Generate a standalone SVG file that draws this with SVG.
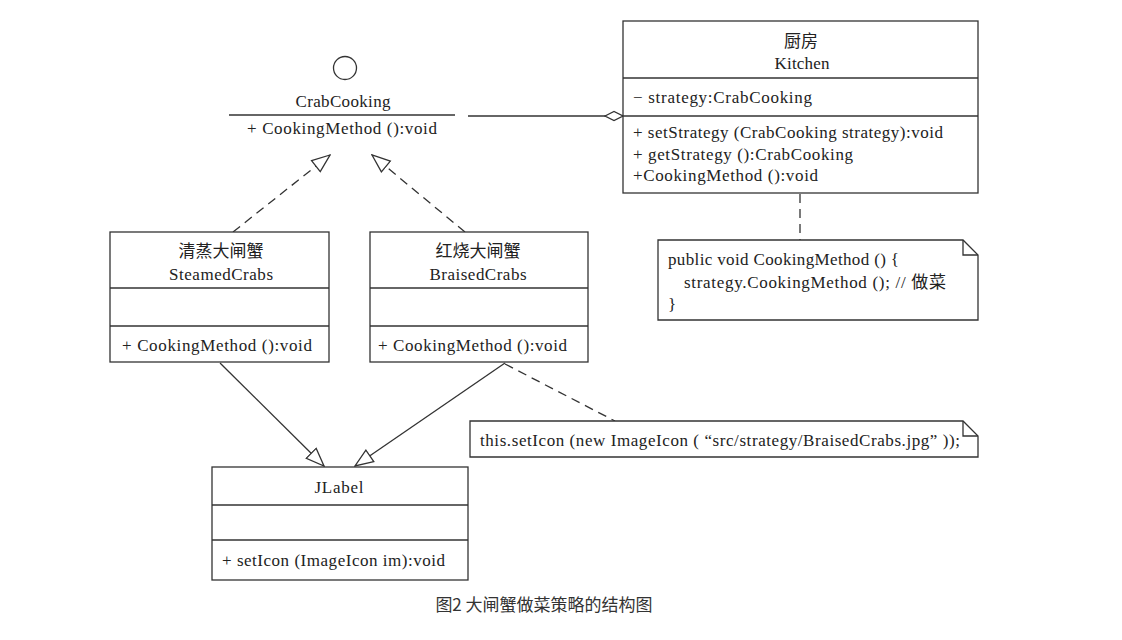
<svg xmlns="http://www.w3.org/2000/svg" width="1122" height="640" viewBox="0 0 1122 640">
<style>
.box{fill:#fff;stroke:#333;stroke-width:1.3}
.ln{stroke:#333;stroke-width:1.3;fill:none}
.dash{stroke:#333;stroke-width:1.3;fill:none;stroke-dasharray:9 6}
text{font-family:"Liberation Serif","Noto Sans CJK SC",serif;font-size:17px;fill:#222}
.c{text-anchor:middle}
.cap{font-family:"Noto Sans CJK SC","Noto Sans",sans-serif;font-size:17px;fill:#333}
</style>
<defs>
<marker id="tri" viewBox="0 0 20 20" refX="19" refY="10" markerWidth="20" markerHeight="20" markerUnits="userSpaceOnUse" orient="auto">
<path d="M1,3 L19,10 L1,17 Z" fill="#fff" stroke="#333" stroke-width="1.3"/>
</marker>
<marker id="dia" viewBox="0 0 20 12" refX="19" refY="6" markerWidth="20" markerHeight="12" markerUnits="userSpaceOnUse" orient="auto">
<path d="M1,6 L10,1.5 L19,6 L10,10.5 Z" fill="#fff" stroke="#333" stroke-width="1.3"/>
</marker>
</defs>
<g id="connectors">
<line class="ln" x1="468" y1="116" x2="623" y2="116" marker-end="url(#dia)"/>
<line class="dash" x1="233" y1="232" x2="330" y2="155" marker-end="url(#tri)"/>
<line class="dash" x1="465" y1="232" x2="372" y2="155" marker-end="url(#tri)"/>
<line class="ln" x1="220" y1="363" x2="324" y2="466" marker-end="url(#tri)"/>
<line class="ln" x1="505" y1="363" x2="355" y2="466" marker-end="url(#tri)"/>
<line class="dash" x1="800" y1="194" x2="800" y2="240"/>
<line class="dash" x1="505" y1="364" x2="615" y2="421"/>
</g>
<g id="CrabCooking">
<circle cx="345" cy="68" r="11.5" class="box"/>
<text class="c" x="343" y="107" textLength="95">CrabCooking</text>
<line class="ln" x1="229" y1="115" x2="455" y2="115"/>
<text x="247" y="134" textLength="190">+ CookingMethod ():void</text>
</g>
<g id="Kitchen">
<rect class="box" x="623" y="21" width="355" height="172"/>
<line class="ln" x1="623" y1="78" x2="978" y2="78"/>
<line class="ln" x1="623" y1="116" x2="978" y2="116"/>
<text class="c" x="801" y="47">厨房</text>
<text class="c" x="802" y="69" textLength="55">Kitchen</text>
<text x="633" y="103" textLength="179">− strategy:CrabCooking</text>
<text x="633" y="138" textLength="310">+ setStrategy (CrabCooking strategy):void</text>
<text x="633" y="160" textLength="220">+ getStrategy ():CrabCooking</text>
<text x="633" y="181" textLength="185">+CookingMethod ():void</text>
</g>
<g id="KitchenNote">
<path class="box" d="M658,240 H963 L978,255 V320 H658 Z"/>
<path class="ln" d="M963,240 V255 H978"/>
<text x="668" y="265" textLength="231">public void CookingMethod () {</text>
<text x="684" y="288" textLength="262">strategy.CookingMethod ();  // 做菜</text>
<text x="668" y="310">}</text>
</g>
<g id="SteamedCrabs">
<rect class="box" x="110" y="232" width="219" height="130"/>
<line class="ln" x1="110" y1="288" x2="329" y2="288"/>
<line class="ln" x1="110" y1="326" x2="329" y2="326"/>
<text class="c" x="221" y="257">清蒸大闸蟹</text>
<text class="c" x="221" y="280" textLength="104">SteamedCrabs</text>
<text x="122" y="351" textLength="190">+ CookingMethod ():void</text>
</g>
<g id="BraisedCrabs">
<rect class="box" x="370" y="232" width="218" height="130"/>
<line class="ln" x1="370" y1="288" x2="588" y2="288"/>
<line class="ln" x1="370" y1="326" x2="588" y2="326"/>
<text class="c" x="478" y="257">红烧大闸蟹</text>
<text class="c" x="478" y="280" textLength="97">BraisedCrabs</text>
<text x="378" y="351" textLength="189">+ CookingMethod ():void</text>
</g>
<g id="BraisedNote">
<path class="box" d="M470,421 H963 L978,436 V457 H470 Z"/>
<path class="ln" d="M963,421 V436 H978"/>
<text x="480" y="446" textLength="480">this.setIcon (new ImageIcon ( “src/strategy/BraisedCrabs.jpg” ));</text>
</g>
<g id="JLabel">
<rect class="box" x="212" y="467" width="256" height="113"/>
<line class="ln" x1="212" y1="505" x2="468" y2="505"/>
<line class="ln" x1="212" y1="540" x2="468" y2="540"/>
<text class="c" x="339" y="493" textLength="49">JLabel</text>
<text x="222" y="566" textLength="223">+ setIcon (ImageIcon im):void</text>
</g>
<text class="cap c" x="544" y="611">图2 大闸蟹做菜策略的结构图</text>
</svg>
